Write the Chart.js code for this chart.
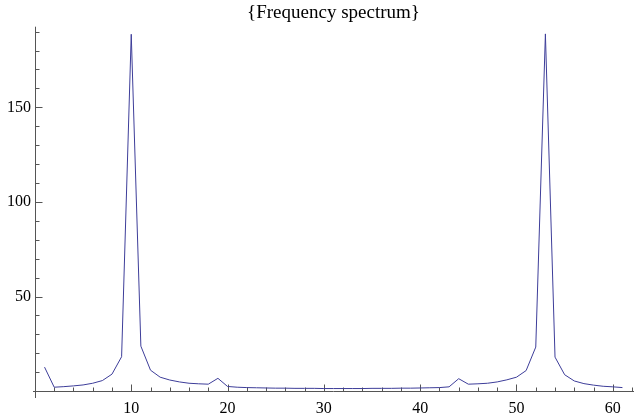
<!DOCTYPE html>
<html><head><meta charset="utf-8">
<script src="https://cdn.jsdelivr.net/npm/chart.js@4.4.0/dist/chart.umd.min.js"></script>
<style>html,body{margin:0;padding:0;background:#fff;} #wrap{width:634px;height:416px;}</style>
</head><body><div id="wrap"><canvas id="c" width="634" height="416"></canvas></div>
<script>
const titleText = '{Frequency spectrum}';
const frequencies = [1,2,3,4,5,6,7,8,9,10,11,12,13,14,15,16,17,18,19,20,21,22,23,24,25,26,27,28,29,30,31,32,33,34,35,36,37,38,39,40,41,42,43,44,45,46,47,48,49,50,51,52,53,54,55,56,57,58,59,60,61];
const magnitudes = [12.7,2.1,2.4,2.8,3.3,4.2,5.6,9.0,18.2,188.6,23.8,11.1,7.4,5.9,4.9,4.2,3.9,3.7,6.8,2.5,2.1,1.9,1.8,1.7,1.6,1.6,1.5,1.5,1.5,1.4,1.4,1.4,1.4,1.4,1.5,1.5,1.5,1.6,1.6,1.7,1.8,1.9,2.3,6.6,3.7,3.9,4.2,4.9,6.0,7.4,10.9,23.3,188.8,18.0,8.7,5.4,4.0,3.2,2.6,2.3,1.9];
const xTickLabels = [10,20,30,40,50,60];
const xMinorTicks = [2,4,6,8,12,14,16,18,22,24,26,28,32,34,36,38,42,44,46,48,52,54,56,58,62];
const yTickLabels = [50,100,150];
const yMinorTicks = [10,20,30,40,60,70,80,90,110,120,130,140,160,170,180,190];

const FONT = "'Liberation Serif', serif";
const AXIS = '#555555';

const axesPlugin = {
  id: 'mmaAxes',
  beforeDatasetsDraw(chart) {
    const ctx = chart.ctx, a = chart.chartArea;
    const xs = chart.scales.x, ys = chart.scales.y;
    const x0 = Math.round(xs.getPixelForValue(0)) + 0.5;
    const y0 = Math.round(ys.getPixelForValue(0)) + 0.5;
    ctx.save();
    ctx.strokeStyle = AXIS;
    ctx.lineWidth = 1;
    ctx.beginPath();
    ctx.moveTo(a.left, y0); ctx.lineTo(a.right, y0);
    ctx.moveTo(x0, a.top); ctx.lineTo(x0, a.bottom);
    xTickLabels.forEach(v => { const p = Math.round(xs.getPixelForValue(v)) + 0.5; ctx.moveTo(p, y0); ctx.lineTo(p, y0 - 7); });
    xMinorTicks.forEach(v => { const p = Math.round(xs.getPixelForValue(v)) + 0.5; ctx.moveTo(p, y0); ctx.lineTo(p, y0 - 4); });
    yTickLabels.forEach(v => { const p = Math.round(ys.getPixelForValue(v)) + 0.5; ctx.moveTo(x0, p); ctx.lineTo(x0 + 7, p); });
    yMinorTicks.forEach(v => { const p = Math.round(ys.getPixelForValue(v)) + 0.5; ctx.moveTo(x0, p); ctx.lineTo(x0 + 4, p); });
    ctx.stroke();
    ctx.restore();
  }
};

new Chart(document.getElementById('c'), {
  type: 'line',
  data: {
    datasets: [{
      data: frequencies.map((f, i) => ({x: f, y: magnitudes[i]})),
      borderColor: '#3d3d99',
      borderWidth: 1,
      pointRadius: 0,
      tension: 0,
      fill: false
    }]
  },
  options: {
    responsive: false,
    animation: false,
    devicePixelRatio: 1,
    layout: {padding: {top: 0, right: 0, left: 0, bottom: 0}},
    plugins: {
      legend: {display: false},
      tooltip: {enabled: false},
      title: {
        display: true, text: titleText, fullSize: false, align: 'center',
        color: '#000', font: {family: FONT, size: 19, weight: 'normal', lineHeight: 1.0},
        padding: {top: 3.5, bottom: 4.2}
      }
    },
    scales: {
      x: {
        type: 'linear', min: -0.2, max: 62.2,
        grid: {display: false, drawTicks: false},
        border: {display: false},
        afterBuildTicks: s => { s.ticks = xTickLabels.map(v => ({value: v})); },
        afterFit: s => { s.height = 18; },
        ticks: {color: '#000', font: {family: FONT, size: 16}, padding: 1, maxRotation: 0, autoSkip: false}
      },
      y: {
        type: 'linear', min: -3.6, max: 192.6,
        grid: {display: false, drawTicks: false},
        border: {display: false},
        afterBuildTicks: s => { s.ticks = yTickLabels.map(v => ({value: v})); },
        afterFit: s => { s.width = 33; },
        ticks: {color: '#000', font: {family: FONT, size: 16}, padding: 2, autoSkip: false}
      }
    }
  },
  plugins: [axesPlugin]
});
</script>
</body></html>
